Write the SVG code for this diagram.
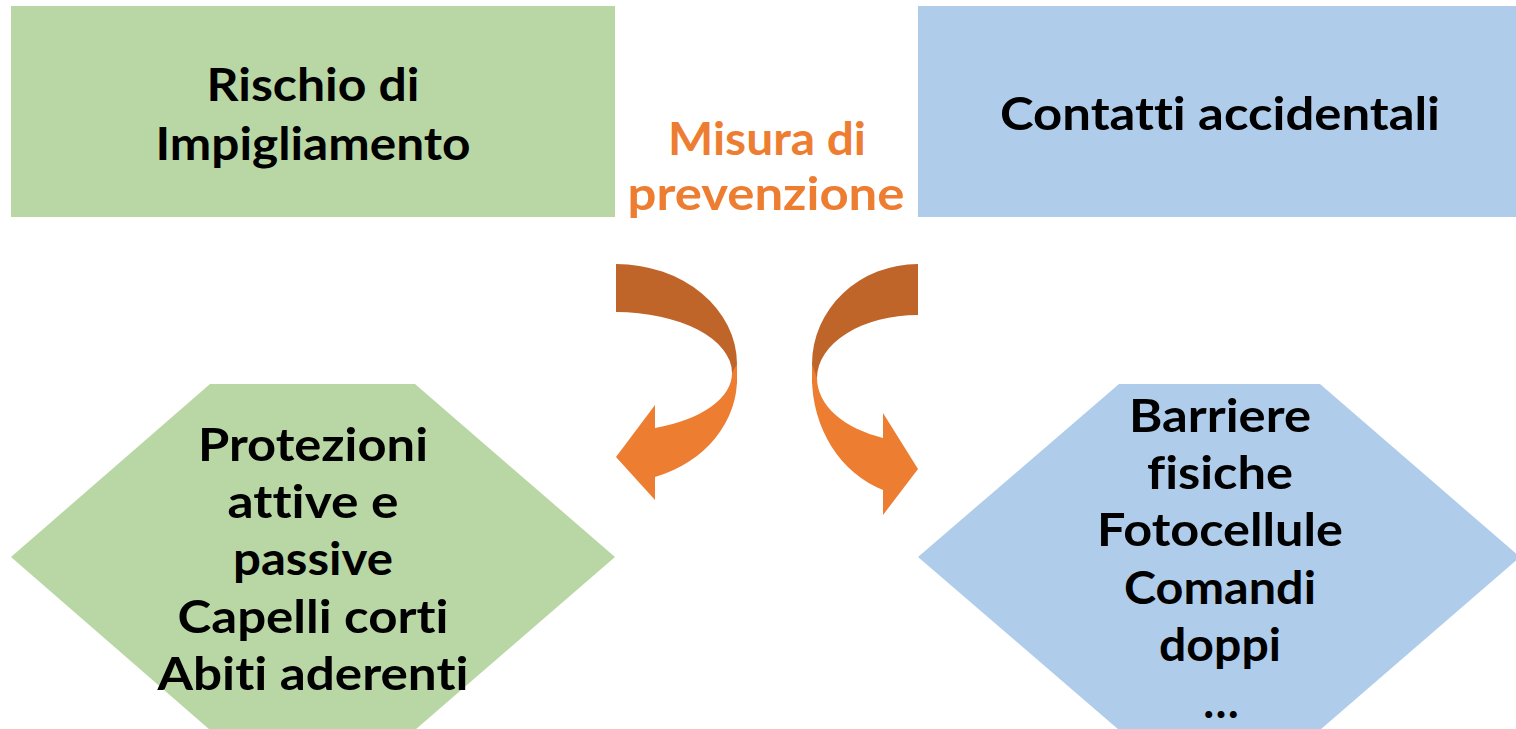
<svg xmlns="http://www.w3.org/2000/svg" width="1516" height="729" viewBox="0 0 1516 729">
<style>
.t{font-family:Lato,"DejaVu Sans",sans-serif;font-weight:bold;font-size:46px;fill:#000;text-anchor:middle;font-variant-ligatures:none;font-feature-settings:"liga" 0,"clig" 0,"dlig" 0}
.o{fill:#ED7D31}
.green{fill:#B9D7A5}
.blue{fill:#AFCDEA}
.dark{fill:#C0652A}
.light{fill:#ED7D31}
</style>
<rect width="1516" height="729" fill="#fff"/>
<g id="rischio">
<rect class="green" x="11" y="6" width="604" height="211"/>
<text class="t" x="313" y="101" textLength="213" lengthAdjust="spacingAndGlyphs">Rischio di</text>
<text class="t" x="313" y="160" textLength="315" lengthAdjust="spacingAndGlyphs">Impigliamento</text>
</g>
<g id="contatti">
<rect class="blue" x="918" y="6" width="598" height="211"/>
<text class="t" x="1220" y="130" textLength="440" lengthAdjust="spacingAndGlyphs">Contatti accidentali</text>
</g>
<g id="misura">
<text class="t o" x="767" y="155" textLength="198" lengthAdjust="spacingAndGlyphs">Misura di</text>
<text class="t o" x="766" y="210" textLength="277" lengthAdjust="spacingAndGlyphs">prevenzione</text>
</g>
<g id="protezioni">
<polygon class="green" points="210,384 415,384 615,557 415,730 210,730 11,557"/>
<text class="t" x="313" y="461" textLength="230" lengthAdjust="spacingAndGlyphs">Protezioni</text>
<text class="t" x="313" y="518" textLength="171" lengthAdjust="spacingAndGlyphs">attive e</text>
<text class="t" x="313" y="575" textLength="160" lengthAdjust="spacingAndGlyphs">passive</text>
<text class="t" x="313" y="633" textLength="271" lengthAdjust="spacingAndGlyphs">Capelli corti</text>
<text class="t" x="313" y="690" textLength="311" lengthAdjust="spacingAndGlyphs">Abiti aderenti</text>
</g>
<g id="barriere">
<polygon class="blue" points="1119,384 1320,384 1520,557 1320,730 1119,730 918,557"/>
<text class="t" x="1220" y="432" textLength="182" lengthAdjust="spacingAndGlyphs">Barriere</text>
<text class="t" x="1220" y="489" textLength="146" lengthAdjust="spacingAndGlyphs">fisiche</text>
<text class="t" x="1220" y="546" textLength="246" lengthAdjust="spacingAndGlyphs">Fotocellule</text>
<text class="t" x="1220" y="604" textLength="192" lengthAdjust="spacingAndGlyphs">Comandi</text>
<text class="t" x="1220" y="661" textLength="122" lengthAdjust="spacingAndGlyphs">doppi</text>
<text class="t" x="1221" y="718">…</text>
</g>
<g id="connectors">
<path class="dark" d="M616,264 A121,100 0 0 1 737,364 L737,384 L732,373 A116,61 0 0 0 616,312 Z"/>
<path class="light" d="M737,364 L737,375 A121,104 0 0 1 655,477 L655,500 L616,457 L655,405 L655,428 A116,58 0 0 0 732,373 Z"/>
<path class="dark" d="M918,264 A106,100 0 0 0 812,364 L812,384 L817,378 A101,63 0 0 1 918,315 Z"/>
<path class="light" d="M812,364 L812,378 A106,119 0 0 0 883,490 L883,515 L918,469 L883,413 L883,438 A101,64 0 0 1 817,378 Z"/>
</g>
</svg>
